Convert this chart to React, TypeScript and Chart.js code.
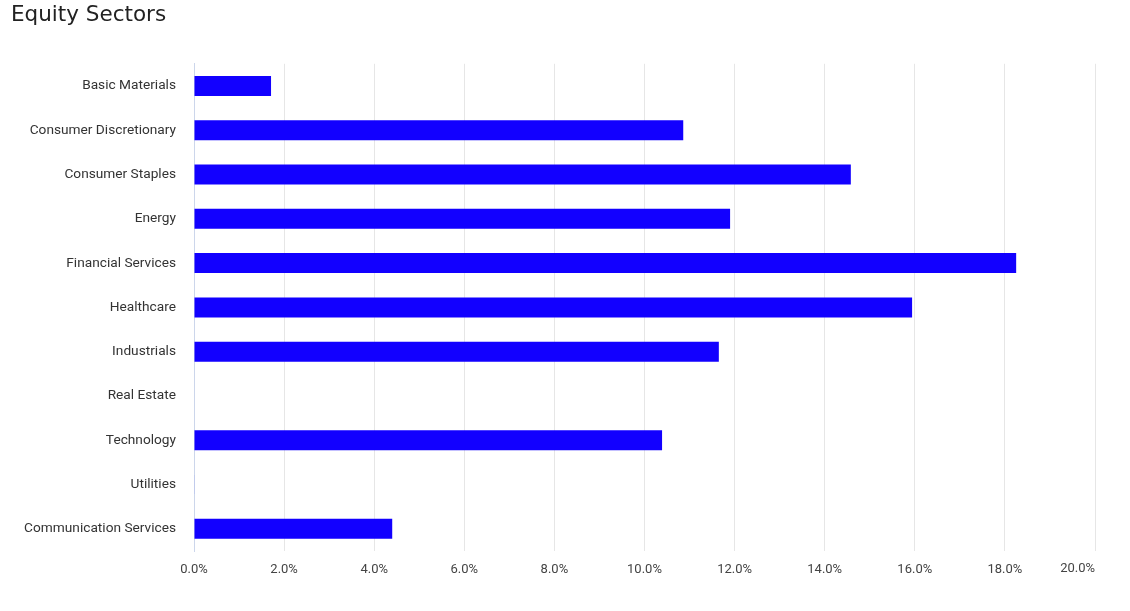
import React, { useEffect, useRef } from "react";
import { Chart, registerables } from "chart.js";

Chart.register(...registerables);

const title = "Equity Sectors";
const categories = [
  "Basic Materials",
  "Consumer Discretionary",
  "Consumer Staples",
  "Energy",
  "Financial Services",
  "Healthcare",
  "Industrials",
  "Real Estate",
  "Technology",
  "Utilities",
  "Communication Services",
];
const weights = [1.71, 10.86, 14.58, 11.9, 18.25, 15.94, 11.65, 0, 10.39, 0.01, 4.4];
const xMin = 0;
const xMax = 20;
const xStep = 2;

const lastTickPlugin = {
  id: "lastTickLabel",
  afterDraw(chart: any) {
    const scale = chart.scales.x;
    const ctx = chart.ctx;
    const ticks = scale.ticks;
    const last = ticks[ticks.length - 1];
    const px = scale.getPixelForValue(last.value);
    ctx.save();
    ctx.font = "13px Roboto";
    ctx.fillStyle = "#444444";
    ctx.textAlign = "right";
    ctx.textBaseline = "top";
    ctx.fillText(last.value.toFixed(1) + "%", px, scale.top + 11);
    ctx.restore();
  },
};

export default function App() {
  const ref = useRef<HTMLCanvasElement | null>(null);
  useEffect(() => {
    if (!ref.current) return;
    const chart = new Chart(ref.current, {
      type: "bar",
      data: {
        labels: categories,
        datasets: [
          {
            label: title,
            data: weights,
            backgroundColor: "rgb(18,0,255)",
            borderWidth: 0,
            inflateAmount: 0,
            barThickness: 20,
          },
        ],
      },
      options: {
        indexAxis: "y",
        animation: false,
        responsive: false,
        maintainAspectRatio: false,
        layout: { padding: { left: 11, right: 35, top: 0, bottom: 30 } },
        plugins: {
          legend: { display: false },
          tooltip: { enabled: false },
          title: {
            display: true,
            text: title,
            align: "start",
            color: "#222222",
            font: { family: "DejaVu Sans", size: 21.5, weight: "normal" },
            padding: { top: 3, bottom: 35 },
          },
        },
        scales: {
          x: {
            min: xMin,
            max: xMax,
            ticks: {
              stepSize: xStep,
              padding: 11,
              color: "#444444",
              font: { family: "Roboto", size: 13 },
              maxRotation: 0,
              callback: (v: any) => (Number(v) === xMax ? "" : Number(v).toFixed(1) + "%"),
            },
            grid: { color: "#e6e6e6", drawTicks: false, lineWidth: 1 },
            border: { display: false },
            afterFit: (s: any) => {
              s.height = 30;
            },
          },
          y: {
            ticks: {
              padding: 18,
              color: "#333333",
              font: { family: "Roboto", size: 13.7 },
              autoSkip: false,
            },
            grid: { display: false, drawTicks: false },
            border: { display: true, color: "#ccd6eb", width: 1 },
            afterFit: (s: any) => {
              s.width = 183;
            },
          },
        },
      },
      plugins: [lastTickPlugin],
    });
    return () => chart.destroy();
  }, []);
  return (
    <div style={{ position: "absolute", left: 0, top: 0, width: 1130, height: 611, background: "#fff" }}>
      <canvas ref={ref} width={1130} height={611} style={{ display: "block" }} />
    </div>
  );
}
